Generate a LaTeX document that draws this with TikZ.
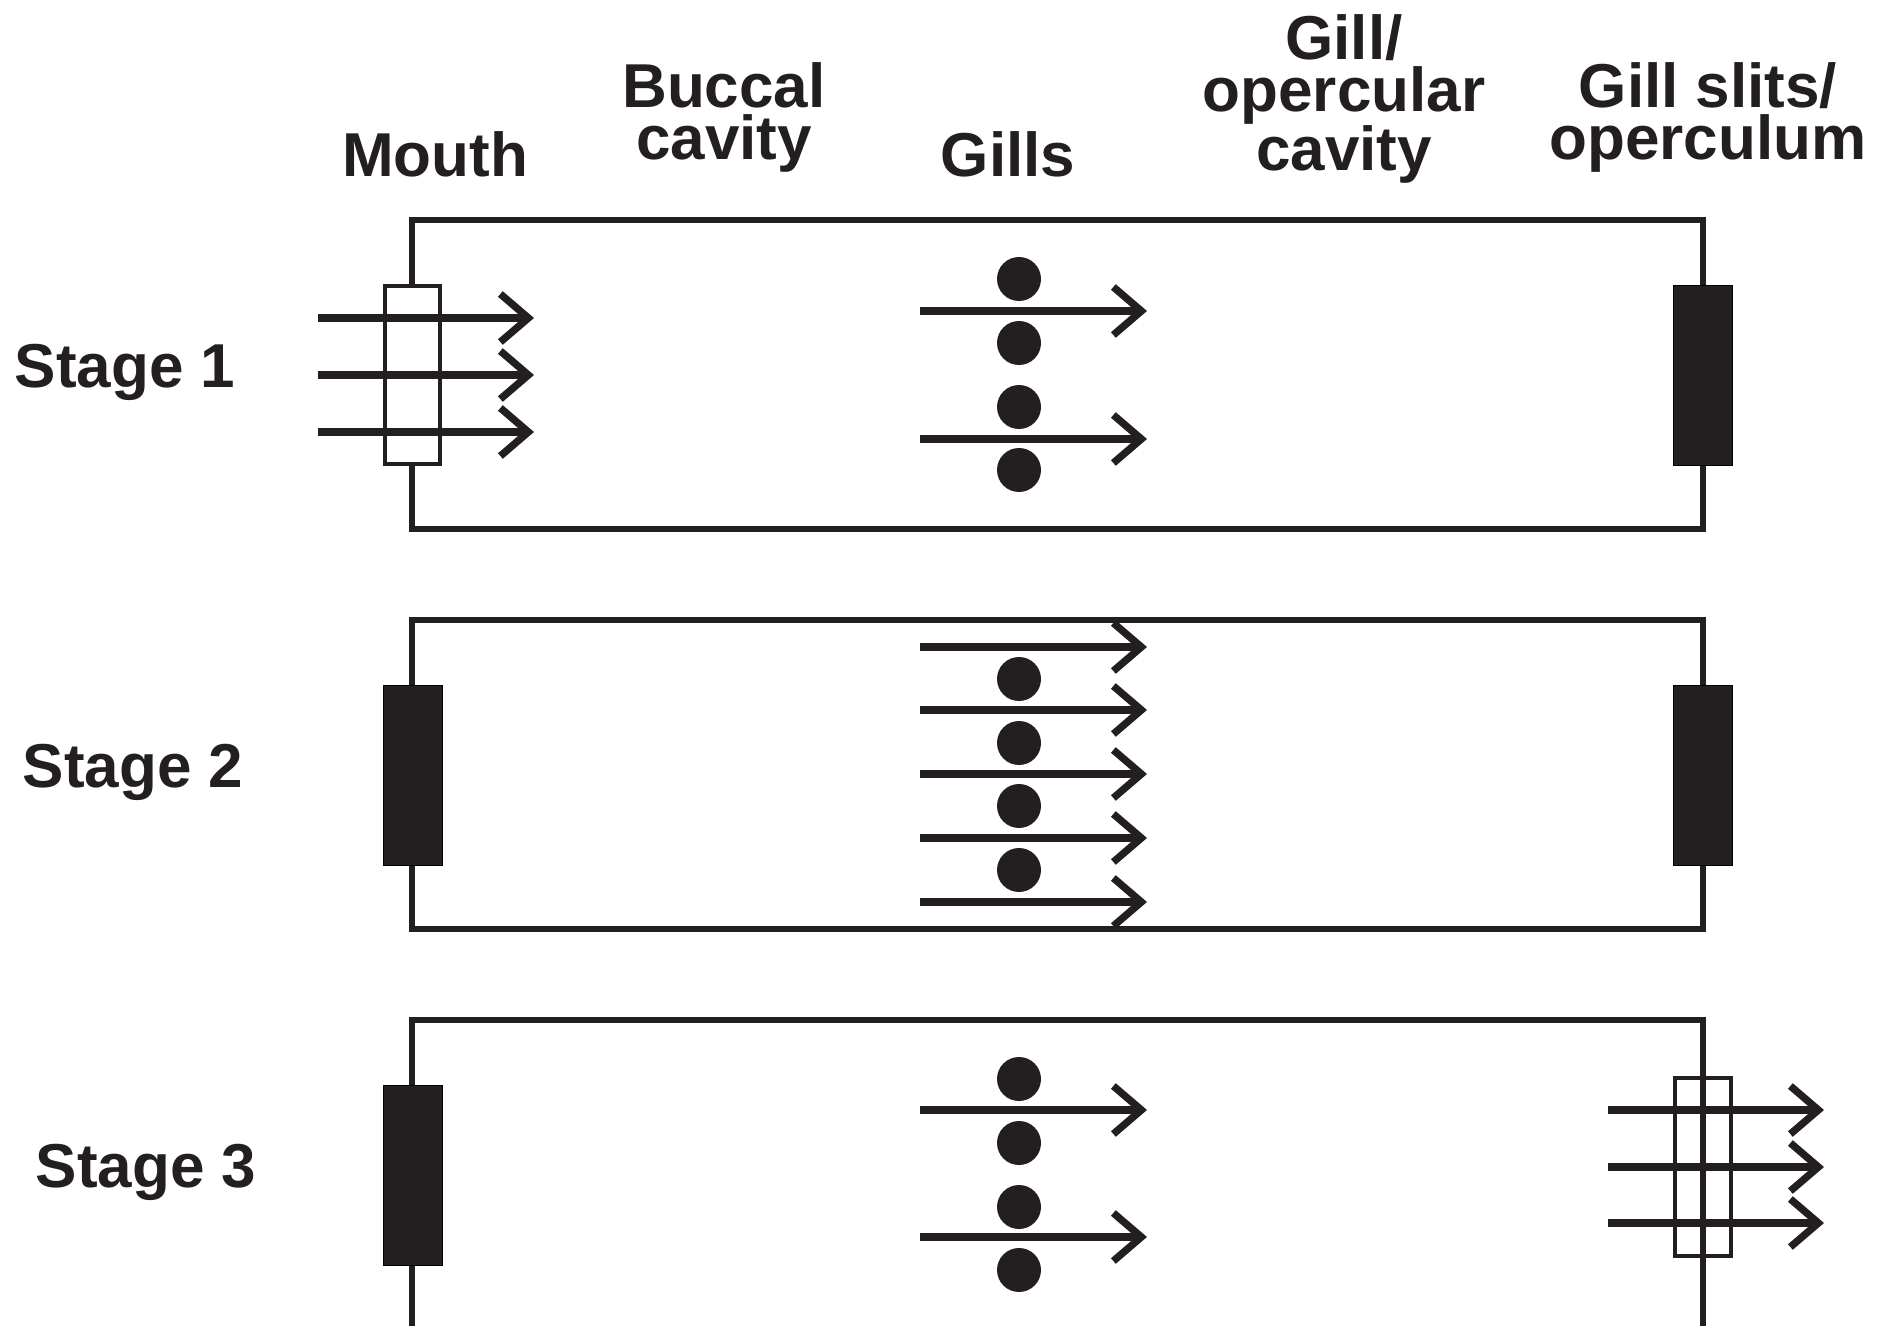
\documentclass[tikz,border=0pt]{standalone}
\usepackage{fontspec}
\setmainfont{Liberation Sans}
\usepackage{tikz}
\usetikzlibrary{arrows.meta}
\definecolor{ink}{HTML}{231F20}

\begin{document}
\begin{tikzpicture}[x=0.75pt,y=0.75pt,yscale=-1,xscale=1,
  wall/.style={draw=ink,line width=4pt},
  valve/.style={draw=ink,line width=3.5pt},
  shut/.style={fill=ink},
  flow/.style={draw=ink,line width=5.5pt,-{Straight Barb[length=21pt,width=36pt]}},
  gill/.style={fill=ink},
  head/.style={font=\fontsize{46.5}{39}\selectfont\bfseries,text=ink,inner sep=0pt,align=center},
  stage/.style={font=\fontsize{46.5}{39}\selectfont\bfseries,text=ink,inner sep=0pt}]

\useasboundingbox (0,0) rectangle (1899,1326);

% column headings (base = last line)
\draw (435,177) node [anchor=base,head] (mouth) {Mouth};
\draw (724,160) node [anchor=base,head] (buccal) {Buccal\\cavity};
\draw (1008,177) node [anchor=base,head] (gills) {Gills};
\draw (1344,171) node [anchor=base,head] (opercav) {Gill/\\opercular\\cavity};
\draw (1708,160) node [anchor=base,head] (slits) {Gill slits/\\operculum};

% row labels
\draw (125,388) node [anchor=base,stage] (stage1) {Stage 1};
\draw (133,787) node [anchor=base,stage] (stage2) {Stage 2};
\draw (146,1187) node [anchor=base,stage] (stage3) {Stage 3};

% stage 1: mouth open, operculum shut
\draw [wall] (412,220) rectangle (1703,529);
\draw [valve,fill=white] (385,286) rectangle (440,464);
\draw [shut] (1673,285) rectangle (1732,465);
\draw [flow] (318,318) -- (534,318);
\draw [flow] (318,375) -- (534,375);
\draw [flow] (318,432) -- (534,432);
\fill [gill] (1019,279) circle (22);
\fill [gill] (1019,343) circle (22);
\fill [gill] (1019,407) circle (22);
\fill [gill] (1019,470) circle (22);
\draw [flow] (920,311) -- (1147,311);
\draw [flow] (920,439) -- (1147,439);

% stage 2: both shut
\draw [wall] (412,620) rectangle (1703,929);
\draw [shut] (383,685) rectangle (442,865);
\draw [shut] (1673,685) rectangle (1732,865);
\fill [gill] (1019,679) circle (22);
\fill [gill] (1019,743) circle (22);
\fill [gill] (1019,806) circle (22);
\fill [gill] (1019,870) circle (22);
\draw [flow] (920,647) -- (1147,647);
\draw [flow] (920,710) -- (1147,710);
\draw [flow] (920,774) -- (1147,774);
\draw [flow] (920,838) -- (1147,838);
\draw [flow] (920,902) -- (1147,902);

% stage 3: mouth shut, operculum open
\draw [wall] (412,1326) -- (412,1020) -- (1703,1020) -- (1703,1326);
\draw [shut] (383,1085) rectangle (442,1265);
\draw [valve] (1675,1078) rectangle (1731,1256);
\fill [gill] (1019,1079) circle (22);
\fill [gill] (1019,1143) circle (22);
\fill [gill] (1019,1207) circle (22);
\fill [gill] (1019,1270) circle (22);
\draw [flow] (920,1110) -- (1147,1110);
\draw [flow] (920,1237) -- (1147,1237);
\draw [flow] (1608,1110) -- (1824,1110);
\draw [flow] (1608,1167) -- (1824,1167);
\draw [flow] (1608,1223) -- (1824,1223);

\end{tikzpicture}
\end{document}
